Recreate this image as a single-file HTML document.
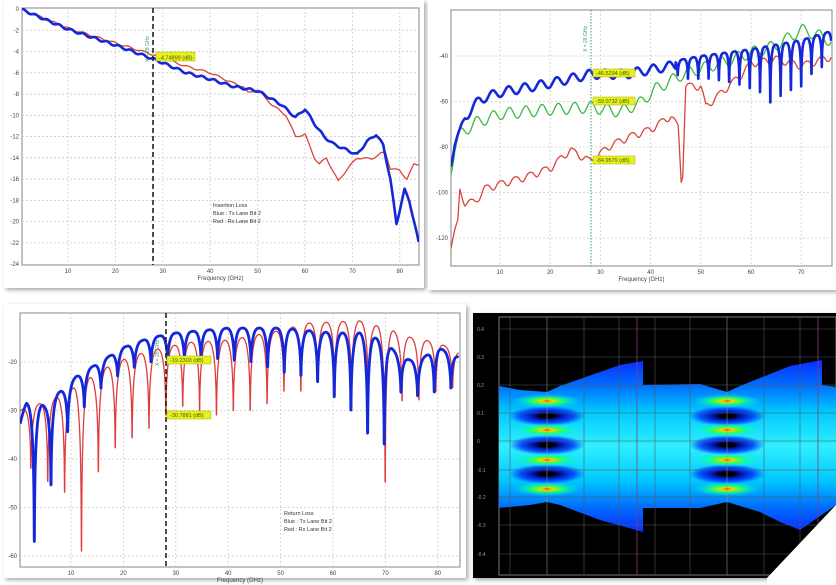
<!DOCTYPE html>
<html><head><meta charset="utf-8"><style>
html,body{margin:0;padding:0;background:#fff;}
body{width:836px;height:585px;overflow:hidden;position:relative;font-family:"Liberation Sans",sans-serif;}
svg{position:absolute;left:0;top:0;}
text{font-family:"Liberation Sans",sans-serif;}
</style></head><body>
<svg id="s" width="836" height="585" viewBox="0 0 836 585" xmlns="http://www.w3.org/2000/svg">
<defs>
<filter id="sh" x="-5%" y="-5%" width="110%" height="110%"><feDropShadow dx="2" dy="2" stdDeviation="2" flood-color="#000" flood-opacity="0.35"/></filter>
<linearGradient id="eg" x1="0" y1="0" x2="0" y2="1">
<stop offset="0" stop-color="#0a2cff"/><stop offset="0.15" stop-color="#0070ff"/><stop offset="0.3" stop-color="#00c8ff"/><stop offset="0.5" stop-color="#30f0ff"/><stop offset="0.7" stop-color="#00c8ff"/><stop offset="0.85" stop-color="#0070ff"/><stop offset="1" stop-color="#0a2cff"/>
</linearGradient>
<radialGradient id="band"><stop offset="0" stop-color="#ff2000"/><stop offset="0.15" stop-color="#ffd000"/><stop offset="0.4" stop-color="#40ff40"/><stop offset="0.7" stop-color="#00ffb0" stop-opacity="0.5"/><stop offset="1" stop-color="#00ffb0" stop-opacity="0"/></radialGradient>
<radialGradient id="hole"><stop offset="0" stop-color="#000"/><stop offset="0.2" stop-color="#000"/><stop offset="0.35" stop-color="#0010a0"/><stop offset="0.7" stop-color="#0030ff" stop-opacity="0.8"/><stop offset="1" stop-color="#0030ff" stop-opacity="0"/></radialGradient>
</defs>
<rect x="4" y="0" width="420" height="288" fill="#fff" filter="url(#sh)"/>
<rect x="428" y="0" width="408" height="290" fill="#fff" filter="url(#sh)"/>
<rect x="4" y="304" width="462" height="274" fill="#fff" filter="url(#sh)"/>
<g id="g"></g>
</svg>
<script>
const NS="http://www.w3.org/2000/svg";
const G=document.getElementById('g');
function el(t,a,txt){const e=document.createElementNS(NS,t);for(const k in a)e.setAttribute(k,a[k]);if(txt!==undefined)e.textContent=txt;G.appendChild(e);return e;}
function interp(T,f){if(f<=T[0][0])return T[0][1];for(let i=1;i<T.length;i++){if(f<=T[i][0]){const a=T[i-1],b=T[i];return a[1]+(b[1]-a[1])*(f-a[0])/(b[0]-a[0]);}}return T[T.length-1][1];}
function chart(c){
 const px=f=>c.x0+c.kx*f, py=v=>c.y0+(c.v0-v)*c.ky;
 el('rect',{x:c.bx,y:c.by,width:c.bw,height:c.bh,fill:'#fff',stroke:'#999','stroke-width':1.2});
 for(const f of c.xt){const x=px(f);if(x>c.bx+1&&x<c.bx+c.bw-1)el('line',{x1:x,y1:c.by,x2:x,y2:c.by+c.bh,stroke:'#ccc','stroke-width':0.8,'stroke-dasharray':'2,2'});el('text',{x:x,y:c.by+c.bh+8,'font-size':6,fill:'#444','text-anchor':'middle'},f);}
 for(const v of c.yt){const y=py(v);if(y>c.by+1&&y<c.by+c.bh-1)el('line',{x1:c.bx,y1:y,x2:c.bx+c.bw,y2:y,stroke:'#ccc','stroke-width':0.8,'stroke-dasharray':'2,2'});el('text',{x:c.bx-3,y:y+2,'font-size':6,fill:'#444','text-anchor':'end'},v);}
 el('text',{x:c.bx+c.bw/2,y:c.by+c.bh+15,'font-size':6,fill:'#444','text-anchor':'middle'},'Frequency (GHz)');
 const cp=el('clipPath',{id:'c'+c.id});const r=document.createElementNS(NS,'rect');r.setAttribute('x',c.bx);r.setAttribute('y',c.by);r.setAttribute('width',c.bw);r.setAttribute('height',c.bh);cp.appendChild(r);
 for(const s of c.series){let d='';for(let f=c.f0;f<=c.f1;f+=0.02){d+=(d?'L':'M')+px(f).toFixed(2)+','+py(s.fn(f)).toFixed(2);}el('path',{d:d,fill:'none',stroke:s.col,'stroke-width':s.w,'stroke-linejoin':'round','clip-path':'url(#c'+c.id+')'});}
 return {px,py};
}
function rl(f,peakT,dipT,P,ph,e){const s=Math.abs(Math.sin(Math.PI*(f-ph)/P));const pk=interp(peakT,f),dp=interp(dipT,f);const fl=0.02;let t=Math.log10(Math.max(s,fl))/Math.log10(fl);t=Math.min(1,Math.max(0,t));return pk-2.5*(1-s)*(1-s)+(dp-pk+2.5)*Math.pow(t,e);}
// Panel 1
chart({id:1,bx:22,by:8,bw:397,bh:257,x0:20.6,kx:4.74,y0:9,v0:0,ky:10.63,xt:[10,20,30,40,50,60,70,80],yt:[0,-2,-4,-6,-8,-10,-12,-14,-16,-18,-20,-22,-24],f0:0.3,f1:84,
series:[
{col:'#d9443a',w:1.3,fn:f=>interp([[0,0],[10,-1.8],[20,-3.2],[28,-4.3],[33,-5.1],[35,-5.4],[40,-6],[45,-7],[47,-7.3],[48,-7.9],[50,-7.6],[53,-9],[56,-10],[58,-12],[60,-11.8],[62,-14],[63,-14.6],[64.5,-14],[67,-16.2],[69,-15],[71,-14],[74,-14.1],[76,-13.6],[77,-13.5],[78,-15],[80,-15.2],[81.5,-16],[83,-14.6],[84,-14.6]],f)+0.08*Math.sin(f*2)},
{col:'#1428d8',w:2.6,fn:f=>interp([[0,0],[10,-1.9],[20,-3.4],[28,-4.7],[35,-6],[40,-6.6],[45,-7.3],[50,-7.7],[55,-9],[58,-10.2],[60,-9.4],[62,-10.8],[64,-12],[66,-12.7],[69,-13.3],[71,-13.7],[73,-12.5],[75,-11.8],[76.5,-12.8],[78,-16],[79.3,-20.2],[81,-17],[82,-18],[84,-22]],f)+0.1*Math.sin(f*2.5)}
]});
el('line',{x1:153,y1:8,x2:153,y2:265,stroke:'#222','stroke-width':1.6,'stroke-dasharray':'5,3'});
el('text',{x:0,y:0,'font-size':5,fill:'#3a9a70',transform:'translate(149,62) rotate(-90)'},'X = 28 GHz');
el('rect',{x:156,y:52,width:39,height:9,fill:'#e8f020',stroke:'#aab000','stroke-width':0.5});
el('text',{x:159,y:59.5,'font-size':5.5,fill:'#406000'},'-4.74899 (dB)');
el('text',{x:213,y:207,'font-size':5.5,fill:'#333'},'Insertion Loss');
el('text',{x:213,y:215,'font-size':5.5,fill:'#333'},'Blue : Tx Lane Bit 2');
el('text',{x:213,y:223,'font-size':5.5,fill:'#333'},'Red : Rx Lane Bit 2');
// Panel 2
chart({id:2,bx:451,by:10,bw:381,bh:256,x0:449.8,kx:5.02,y0:56,v0:-40,ky:2.275,xt:[10,20,30,40,50,60,70],yt:[-40,-60,-80,-100,-120],f0:0.2,f1:76,
series:[
{col:'#d9443a',w:1.3,fn:f=>{const b=interp([[0.2,-122],[1,-116],[1.6,-112],[2,-98],[3,-103],[5,-103],[7,-97],[10,-95],[15,-92],[20,-88],[24,-80],[28,-85],[32,-78],[36,-74],[40,-71],[44,-65],[45.5,-70],[46.1,-93],[46.4,-90],[47,-52],[50,-52],[51,-61],[55,-53],[58,-47],[60,-42],[65,-40],[70,-43],[76,-39]],f);return b-3*Math.pow(Math.abs(Math.cos(Math.PI*f/2.9)),3);}},
{col:'#3cba3c',w:1.3,fn:f=>{const b=interp([[0.2,-88],[1,-78],[2,-72],[5,-67],[10,-63],[20,-61],[28,-60],[34,-62],[38,-58],[41,-52],[46,-46],[50,-43],[55,-40],[60,-36],[65,-33],[70,-26],[73,-28],[76,-31]],f);return b-5*Math.pow(Math.abs(Math.cos(Math.PI*(f-0.5)/3.25)),2);}},
{col:'#1428d8',w:2.6,fn:f=>{const b=interp([[0.2,-85],[1,-76],[2,-72],[3,-65],[6,-57],[10,-54],[20,-50],[28,-46],[35,-46],[40,-44],[45,-42],[50,-40],[60,-37],[70,-33],[76,-29]],f);
 if(f<45)return b-4*Math.pow(Math.abs(Math.cos(Math.PI*(f-0.5)/3.2)),2);
 const d=interp([[45,-48],[47,-50],[52,-50],[57,-52],[62,-56],[64.5,-62],[67,-54],[69,-56],[72,-48],[76,-42]],f);return rl(f,[[0,b],[100,b]],[[0,d],[100,d]],2.05,0.3,1.2);}}
]});
el('line',{x1:591,y1:10,x2:591,y2:266,stroke:'#3a9a70','stroke-width':1,'stroke-dasharray':'1.5,1.5'});
el('text',{x:0,y:0,'font-size':5,fill:'#3a9a70',transform:'translate(587,52) rotate(-90)'},'X = 28 GHz');
[[69,'-46.5294 (dB)'],[97,'-59.0732 (dB)'],[156,'-84.9579 (dB)']].forEach(a=>{el('rect',{x:593,y:a[0],width:42,height:8,fill:'#e8f020',stroke:'#aab000','stroke-width':0.5});el('text',{x:596,y:a[0]+6,'font-size':5.5,fill:'#406000'},a[1]);});
// Panel 3
chart({id:3,bx:20,by:313,bw:440,bh:254,x0:18.6,kx:5.24,y0:362,v0:-20,ky:4.85,xt:[10,20,30,40,50,60,70,80],yt:[-20,-30,-40,-50,-60],f0:0.3,f1:84,
series:[
{col:'#e03c3c',w:1.3,fn:f=>rl(f,[[0,-30],[3,-29],[8,-27],[11,-25],[14,-23],[17,-21],[20,-19.5],[24,-18],[28,-17],[32,-16],[40,-15.5],[50,-13.5],[55,-12],[65,-11.5],[70,-13],[75,-15],[80,-16],[84,-18]],[[0,-40],[6,-45],[9,-47],[12,-59],[15,-43],[18,-38],[21,-36],[24.5,-34],[28,-31],[31,-29],[34,-30],[37.5,-31],[41,-30],[44,-30],[47,-29],[50,-26],[54,-26],[57,-24],[63,-27],[67,-27],[70,-45],[73,-28],[76,-28],[80,-26],[84,-25]],3.22,2.34,1.0)},
{col:'#1428d8',w:2.8,fn:f=>rl(f,[[0,-32],[1.5,-28.5],[5,-29],[8,-26],[11,-23],[14,-21],[17,-19],[20,-17],[25,-15],[30,-14],[40,-13],[50,-13],[60,-14],[66,-14],[70,-16],[73,-19],[76,-20],[80,-17],[84,-19]],[[0,-35],[3,-57],[6,-46],[9,-35],[12,-30],[15,-26],[18,-23.5],[21,-21.5],[25,-20],[28,-19.5],[35,-19],[45,-20],[50,-22],[55,-23],[57,-24],[60,-27],[63,-29],[66.2,-36],[68,-30],[69.8,-37],[72,-26],[76,-27],[80,-26],[84,-25]],3.18,-0.18,1.0)}
]});
el('line',{x1:166,y1:313,x2:166,y2:567,stroke:'#222','stroke-width':1.6,'stroke-dasharray':'5,3'});
el('text',{x:0,y:0,'font-size':5,fill:'#3a9a70',transform:'translate(159,366) rotate(-90)'},'X = 28 GHz');
[[356,'-19.2303 (dB)'],[411,'-30.7881 (dB)']].forEach(a=>{el('rect',{x:167,y:a[0],width:44,height:8,fill:'#e8f020',stroke:'#aab000','stroke-width':0.5});el('text',{x:170,y:a[0]+6,'font-size':5.5,fill:'#406000'},a[1]);});
el('text',{x:284,y:515,'font-size':5.5,fill:'#333'},'Return Loss');
el('text',{x:284,y:523,'font-size':5.5,fill:'#333'},'Blue : Tx Lane Bit 2');
el('text',{x:284,y:531,'font-size':5.5,fill:'#333'},'Red : Rx Lane Bit 2');
// Panel 4 eye
el('polygon',{points:'473,313 836,313 836,505 767,578 473,578',fill:'#000',filter:'url(#sh)'});
el('rect',{x:499,y:317,width:337,height:258,fill:'none',stroke:'#777','stroke-width':1});
const env='499,386 520,390 547,392 560,386 600,372 620,365 643,361 643,385 700,384 720,390 727,392 740,386 790,366 822,360 822,385 836,387 836,505 800,530 780,522 760,512 727,502 700,508 643,508 643,532 600,520 560,505 547,502 530,505 499,508';
el('polygon',{points:env,fill:'url(#eg)'});
const cp=el('clipPath',{id:'ec'});const pp=document.createElementNS(NS,'polygon');pp.setAttribute('points',env);cp.appendChild(pp);
const eg=el('g',{'clip-path':'url(#ec)'});
function ee(t,a){const e=document.createElementNS(NS,t);for(const k in a)e.setAttribute(k,a[k]);eg.appendChild(e);}
[547,727].forEach(cx=>{
 [416,445,474].forEach(y=>ee('ellipse',{cx:cx,cy:y,rx:38,ry:10,fill:'url(#hole)'}));
 [401,430,460,489].forEach(y=>ee('ellipse',{cx:cx,cy:y,rx:34,ry:7,fill:'url(#band)'}));
});
[510,547,584,619,655,690,727,764,800].forEach(x=>el('line',{x1:x,y1:317,x2:x,y2:575,stroke:x==547||x==727?'#999':'#555','stroke-width':0.8,'stroke-opacity':0.7}));
[637,818].forEach(x=>el('line',{x1:x,y1:317,x2:x,y2:575,stroke:'#804080','stroke-width':0.8}));
const yl=[[0.4,329],[0.3,357],[0.2,385],[0.1,413],[0,441],[-0.1,470],[-0.2,497],[-0.3,525],[-0.4,554]];
yl.forEach(a=>{el('line',{x1:499,y1:a[1],x2:836,y2:a[1],stroke:'#555','stroke-width':0.8,'stroke-opacity':0.7});el('text',{x:477,y:a[1]+2,'font-size':5,fill:'#999'},a[0]);});
el('polygon',{points:'836,505 836,585 767,585 767,578',fill:'#fff'});
</script>
</body></html>
